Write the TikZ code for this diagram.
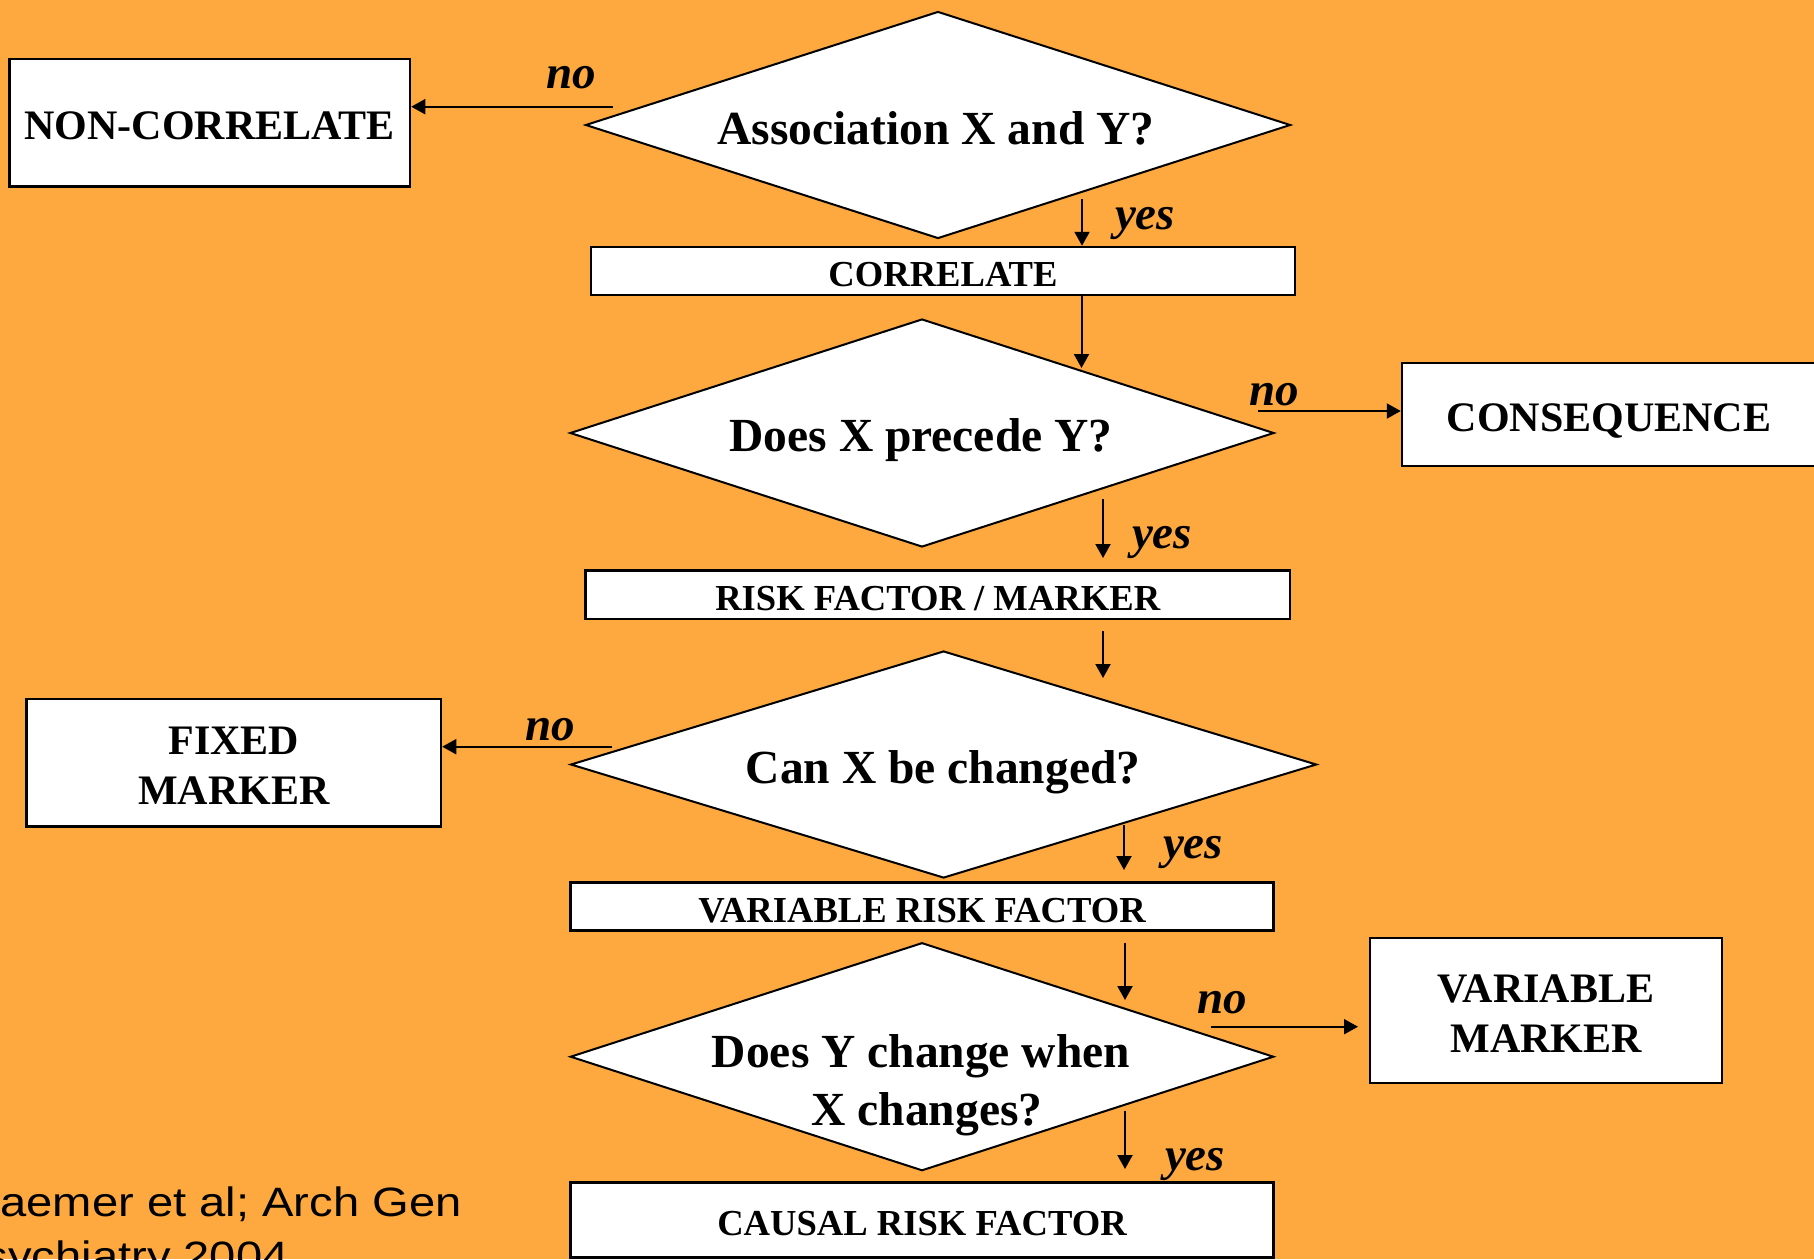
\documentclass[tikz,border=0pt]{standalone}
\usepackage{fontspec}
\setmainfont{Liberation Serif}
\newfontfamily\citefont{Liberation Sans}[FakeStretch=1.15]
\usetikzlibrary{shapes.geometric,arrows.meta}
\definecolor{bgorange}{RGB}{254,168,64}
\begin{document}
\begin{tikzpicture}[x=1pt,y=-1pt,
  dia/.style={shape=diamond, draw, fill=white, line width=2pt, inner sep=0pt},
  boxbase/.style={rectangle, draw, fill=white, line width=2.5pt, inner sep=0pt},
  bigbox/.style={boxbase, align=center, font=\fontsize{42}{50}\selectfont\bfseries},
  bigboxone/.style={boxbase, text height=34pt, text depth=0pt, font=\fontsize{42}{50}\selectfont\bfseries},
  smallbox/.style={boxbase, text height=31pt, text depth=0pt, font=\fontsize{36.6}{44}\selectfont\bfseries},
  dtext/.style={anchor=base, inner sep=0pt, font=\fontsize{47.5}{58}\selectfont\bfseries},
  lbl/.style={anchor=base, inner sep=0pt, font=\fontsize{47}{56}\selectfont\bfseries\itshape},
  arr/.style={line width=2pt, -{Triangle[length=14pt,width=15pt]}},
  cite/.style={anchor=base west, inner sep=0pt, font=\citefont\fontsize{41}{50}\selectfont}]
\useasboundingbox (0,0) rectangle (1814,1259);
\fill[bgorange] (0,0) rectangle (1814,1259);

% diamonds
\node[dia, minimum width=705pt, minimum height=227pt] (d1) at (938,125) {};
\node[dtext] (d1t) at (936,144) {Association X and Y?};
\node[dia, minimum width=704pt, minimum height=228pt] (d2) at (922,433) {};
\node[dtext] (d2t) at (921,451.7) {Does X precede Y?};
\node[dia, minimum width=746pt, minimum height=227pt] (d3) at (943.6,764.5) {};
\node[dtext] (d3t) at (943,783) {Can X be changed?};
\node[dia, minimum width=703.4pt, minimum height=228pt] (d4) at (922,1056.7) {};
\node[dtext] (d4a) at (921,1067) {Does Y change when};
\node[dtext] (d4b) at (927,1125.5) {X changes?};

% boxes
\node[bigboxone, minimum width=400.5pt, minimum height=127.5pt] (nc) at (209.75,122.75) {NON-CORRELATE};
\node[smallbox, minimum width=704pt, minimum height=48pt] (cor) at (943,271) {CORRELATE};
\node[bigboxone, minimum width=414pt, minimum height=103pt] (cons) at (1609,414.5) {CONSEQUENCE};
\node[smallbox, minimum width=704.5pt, minimum height=48.3pt] (rf) at (937.75,594.85) {RISK FACTOR / MARKER};
\node[bigbox, minimum width=414.5pt, minimum height=127.7pt] (fm) at (233.75,762.85) {\rule{0pt}{34pt}FIXED\\MARKER};
\node[smallbox, minimum width=703pt, minimum height=48pt] (vrf) at (922,906.7) {VARIABLE RISK FACTOR};
\node[bigbox, minimum width=352pt, minimum height=145pt] (vm) at (1546,1010.5) {\rule{0pt}{34pt}VARIABLE\\MARKER};
\node[smallbox, minimum width=703.4pt, minimum height=75pt] (crf) at (922,1220) {CAUSAL RISK FACTOR};

% connector ends
\coordinate (n1s) at (612.5,106.7);
\coordinate (y1s) at (1082,199);
\coordinate (c2e) at (1081.5,368);
\coordinate (n2s) at (1258,411);
\coordinate (y2s) at (1103,499);
\coordinate (y2e) at (1103,558);
\coordinate (r3s) at (1103,631);
\coordinate (r3e) at (1103,678);
\coordinate (n3s) at (612,746.7);
\coordinate (y3s) at (1124,825);
\coordinate (y3e) at (1124,870);
\coordinate (v4s) at (1125,942.7);
\coordinate (v4e) at (1125,1000);
\coordinate (n4s) at (1210.6,1026.7);
\coordinate (n4e) at (1358,1026.7);
\coordinate (y4s) at (1125,1110.7);
\coordinate (y4e) at (1125,1169);

% connectors
\draw[arr] (n1s) -- (n1s -| nc.east);
\draw[arr] (y1s) -- (y1s |- cor.north);
\draw[arr] (c2e |- cor.south) -- (c2e);
\draw[arr] (n2s) -- (n2s -| cons.west);
\draw[arr] (y2s) -- (y2e);
\draw[arr] (r3s) -- (r3e);
\draw[arr] (n3s) -- (n3s -| fm.east);
\draw[arr] (y3s) -- (y3e);
\draw[arr] (v4s) -- (v4e);
\draw[arr] (n4s) -- (n4e);
\draw[arr] (y4s) -- (y4e);

% labels
\node[lbl] (no1) at (571,88) {no};
\node[lbl] (yes1) at (1145,229) {yes};
\node[lbl] (no2) at (1274,405) {no};
\node[lbl] (yes2) at (1162,548) {yes};
\node[lbl] (no3) at (550,740.5) {no};
\node[lbl] (yes3) at (1193,858) {yes};
\node[lbl] (no4) at (1222,1013) {no};
\node[lbl] (yes4) at (1195,1170) {yes};

% citation
\node[cite] (cit1) at (-47,1216.7) {Kraemer et al; Arch Gen};
\node[cite] (cit2) at (-47,1270.5) {Psychiatry 2004};
\end{tikzpicture}
\end{document}
